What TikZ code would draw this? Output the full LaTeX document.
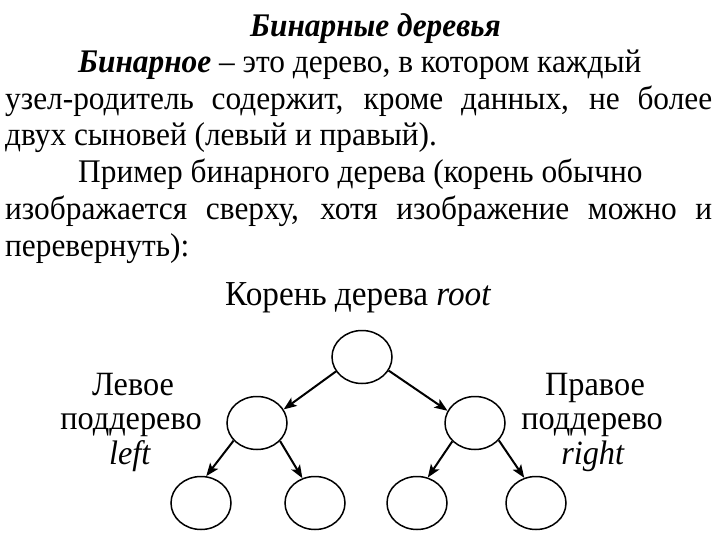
\documentclass[tikz,border=0pt]{standalone}
\usepackage{fontspec}
\setmainfont{Liberation Serif}[FakeStretch=0.95]
\usetikzlibrary{arrows.meta,shapes.geometric}
\begin{document}
\begin{tikzpicture}[x=1pt,y=-1pt,
  txt/.style={anchor=base west,inner sep=0pt,font=\fontsize{33}{36}\selectfont},
  dtxt/.style={anchor=base west,inner sep=0pt,font=\fontsize{35}{36}\selectfont},
  lab/.style={anchor=base,inner sep=0pt,font=\fontsize{34}{36}\selectfont},
  tnode/.style={draw,ellipse,line width=1.5pt,minimum width=60pt,minimum height=53pt,inner sep=0pt},
  arr/.style={line width=2pt,-{Stealth[length=13pt,width=10pt,inset=3pt]}}]
\useasboundingbox[fill=white] (0,0) rectangle (720,540);
% paragraph
\node[txt] (t1) at (250,37) {\textbf{\textit{Бинарные деревья}}};
\node[txt] (t2) at (78,73) {\textbf{\textit{Бинарное}} – это дерево, в котором каждый};
\node[txt] (t3) at (5,110) {\makebox[707pt][s]{узел-родитель содержит, кроме данных, не более}};
\node[txt] (t4) at (5,146) {двух сыновей (левый и правый).};
\node[txt] (t5) at (78,183) {Пример бинарного дерева (корень обычно};
\node[txt] (t6) at (5,219) {\makebox[707pt][s]{изображается сверху, хотя изображение можно и}};
\node[txt] (t7) at (5,256) {перевернуть):};
% diagram
\node[dtxt] (rootlab) at (225,305) {Корень дерева \textit{root}};
\node[lab] (ll1) at (133,395) {Левое};
\node[lab] (ll2) at (131,429) {поддерево};
\node[lab] (ll3) at (130,464) {\textit{left}};
\node[lab] (rl1) at (595,395) {Правое};
\node[lab] (rl2) at (592,429) {поддерево};
\node[lab] (rl3) at (593,464) {\textit{right}};
\node[tnode] (root) at (362,357) {};
\node[tnode] (l) at (257,423) {};
\node[tnode] (r) at (475,423) {};
\node[tnode] (b1) at (201,503) {};
\node[tnode] (b2) at (315,503) {};
\node[tnode] (b3) at (417,503) {};
\node[tnode] (b4) at (536,503) {};
\draw[arr] (root.209) -- (l.27);
\draw[arr] (root.333) -- (r.156);
\draw[arr] (l.217) -- (b1.79);
\draw[arr] (l.322) -- (b2.117);
\draw[arr] (r.219) -- (b3.67);
\draw[arr] (r.324) -- (b4.115);
\end{tikzpicture}
\end{document}
